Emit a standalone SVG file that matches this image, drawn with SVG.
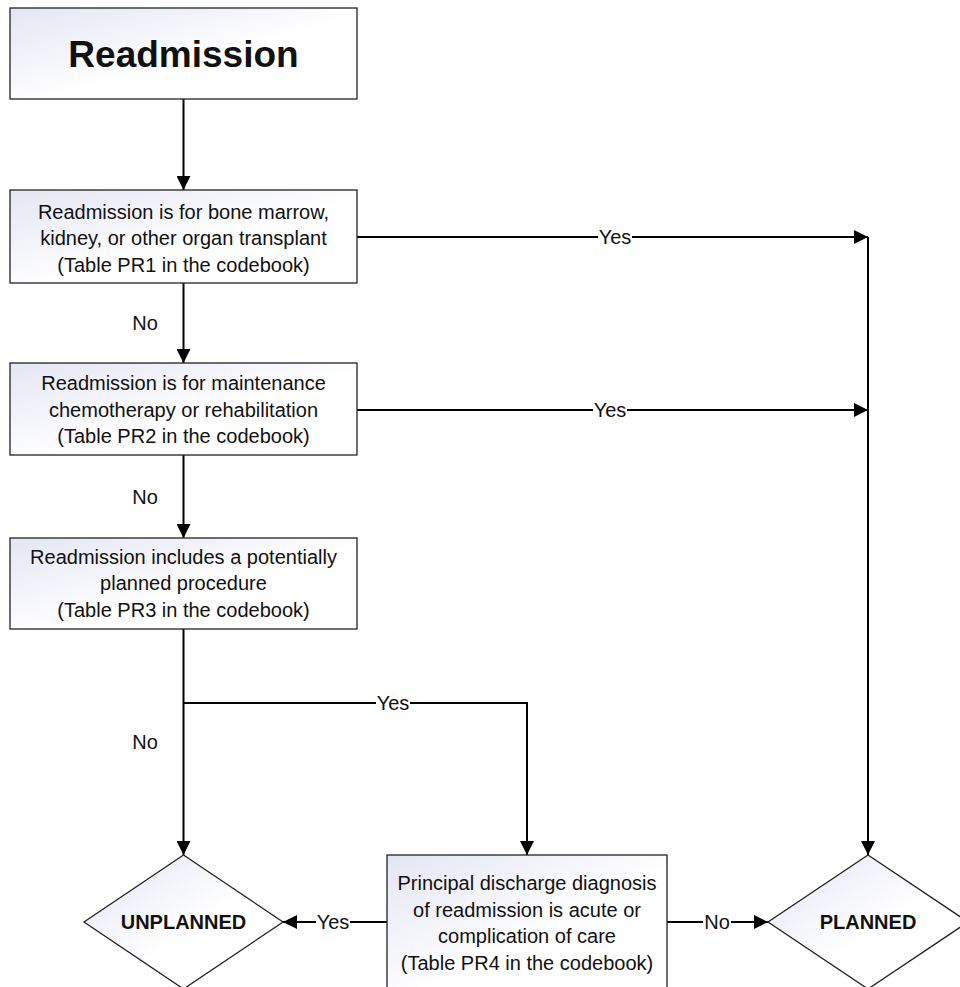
<svg xmlns="http://www.w3.org/2000/svg" width="960" height="987" viewBox="0 0 960 987">
<defs>
<linearGradient id="g" x1="0" y1="0" x2="1" y2="1">
<stop offset="0" stop-color="#e3e5f3"/>
<stop offset="0.55" stop-color="#ffffff"/>
<stop offset="1" stop-color="#ffffff"/>
</linearGradient>
<marker id="ah" markerUnits="userSpaceOnUse" markerWidth="14" markerHeight="14" viewBox="0 0 14 14" refX="14" refY="7" orient="auto">
<path d="M0,0 L14,7 L0,14 Z" fill="#000"/>
</marker>
<style>
.box{fill:url(#g);stroke:#222;stroke-width:1.3}
.t{font-family:"Liberation Sans",Arial,sans-serif;font-size:20px;fill:#111;text-anchor:middle}
.b{font-weight:bold}
.c{fill:none;stroke:#000;stroke-width:2}
.a{marker-end:url(#ah)}
.lb{fill:#fff}
</style>
</defs>
<rect width="960" height="987" fill="#fff"/>
<g id="connectors">
<path class="c a" d="M183.5,99 V190"/>
<path class="c a" d="M357,237 H868"/>
<path class="c a" d="M183.5,283 V363"/>
<path class="c a" d="M357,410 H868"/>
<path class="c a" d="M183.5,455 V538"/>
<path class="c a" d="M183.5,629 V855"/>
<path class="c a" d="M183.5,703 H527 V855"/>
<path class="c a" d="M868,237 V855"/>
<path class="c a" d="M387,922 H283"/>
<path class="c a" d="M667,922 H768"/>
<rect class="lb" x="598" y="226" width="34" height="22"/>
<text class="t" x="615" y="244">Yes</text>
<rect class="lb" x="593" y="399" width="34" height="22"/>
<text class="t" x="610" y="417">Yes</text>
<rect class="lb" x="376" y="692" width="34" height="22"/>
<text class="t" x="393" y="710">Yes</text>
<rect class="lb" x="316" y="911" width="34" height="22"/>
<text class="t" x="333" y="929">Yes</text>
<rect class="lb" x="703" y="911" width="28" height="22"/>
<text class="t" x="717" y="929">No</text>
<text class="t" x="145" y="330">No</text>
<text class="t" x="145" y="504">No</text>
<text class="t" x="145" y="749">No</text>
</g>
<g id="start">
<rect class="box" x="10" y="8" width="347" height="91"/>
<text class="t b" x="183.5" y="67" style="font-size:37px">Readmission</text>
</g>
<g id="q1">
<rect class="box" x="10" y="190" width="347" height="93"/>
<text class="t" x="183.5" y="218.5">Readmission is for bone marrow,</text>
<text class="t" x="183.5" y="245">kidney, or other organ transplant</text>
<text class="t" x="183.5" y="271.5">(Table PR1 in the codebook)</text>
</g>
<g id="q2">
<rect class="box" x="10" y="363" width="347" height="92"/>
<text class="t" x="183.5" y="390">Readmission is for maintenance</text>
<text class="t" x="183.5" y="416.7">chemotherapy or rehabilitation</text>
<text class="t" x="183.5" y="443.4">(Table PR2 in the codebook)</text>
</g>
<g id="q3">
<rect class="box" x="10" y="538" width="347" height="91"/>
<text class="t" x="183.5" y="563.5">Readmission includes a potentially</text>
<text class="t" x="183.5" y="590.2">planned procedure</text>
<text class="t" x="183.5" y="616.9">(Table PR3 in the codebook)</text>
</g>
<g id="q4">
<rect class="box" x="387" y="855" width="280" height="140"/>
<text class="t" x="527" y="890">Principal discharge diagnosis</text>
<text class="t" x="527" y="916.7">of readmission is acute or</text>
<text class="t" x="527" y="943.4">complication of care</text>
<text class="t" x="527" y="970">(Table PR4 in the codebook)</text>
</g>
<g id="unplanned">
<polygon class="box" points="183.5,855 283,922 183.5,989 84,922"/>
<text class="t b" x="183.5" y="929">UNPLANNED</text>
</g>
<g id="planned">
<polygon class="box" points="868,855 968,922 868,989 768,922"/>
<text class="t b" x="868" y="929">PLANNED</text>
</g>
</svg>
